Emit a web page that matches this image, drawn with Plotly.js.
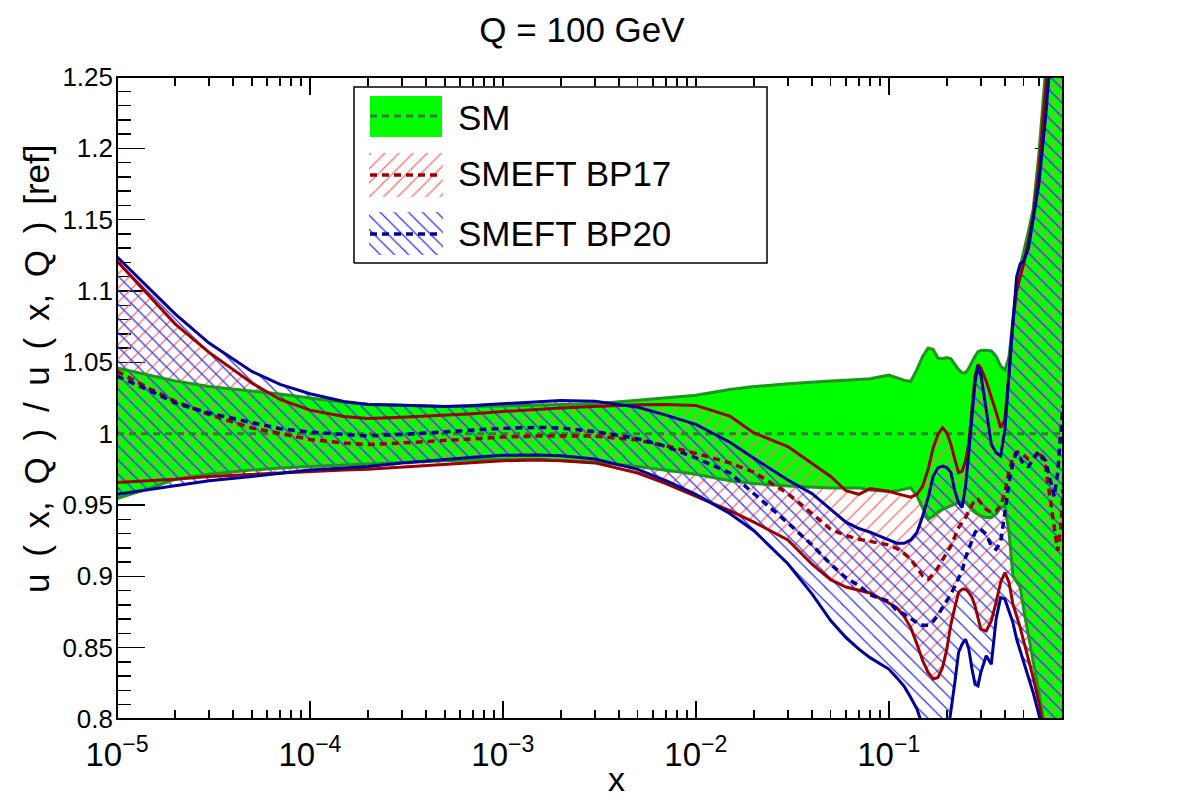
<!DOCTYPE html>
<html>
<head>
<meta charset="utf-8">
<script src="https://cdn.plot.ly/plotly-3.0.1.min.js"></script>
<style>
  html, body { margin: 0; padding: 0; background: #ffffff; }
  #chart { width: 1182px; height: 800px; }
</style>
</head>
<body>
<div id="chart"></div>
<script>
// Momentum fraction grid shared by every band and central curve
const xGrid = [1e-5, 1.5e-5, 2e-5, 3e-5, 5e-5, 7e-5, 1e-4, 1.5e-4, 2e-4, 3e-4, 5e-4, 7e-4,
  1e-3, 1.5e-3, 2e-3, 3e-3, 5e-3, 7e-3, 1e-2, 1.5e-2, 2e-2, 3e-2, 4e-2, 5e-2, 6e-2, 7e-2, 8e-2,
  0.10, 0.11, 0.12, 0.13, 0.14, 0.15, 0.16, 0.17, 0.18, 0.19, 0.20, 0.21, 0.22, 0.23, 0.24,
  0.25, 0.26, 0.27, 0.28, 0.29, 0.30, 0.32, 0.34, 0.36, 0.38, 0.40, 0.42, 0.44, 0.46, 0.48,
  0.50, 0.53, 0.56, 0.60, 0.65, 0.70, 0.72, 0.75, 0.78, 0.80];

// SM uncertainty band (ratio to the reference fit)
const smUpper = [1.046, 1.0405, 1.037, 1.033, 1.0298, 1.0278, 1.025, 1.022, 1.0207, 1.0198, 1.019, 1.019,
  1.0195, 1.020, 1.0205, 1.021, 1.0235, 1.025, 1.027, 1.031, 1.033, 1.035, 1.0363, 1.037, 1.0375, 1.038, 1.0385,
  1.041, 1.039, 1.0375, 1.0366, 1.045, 1.0543, 1.060, 1.059, 1.053, 1.0525, 1.0534, 1.0525, 1.0485, 1.045, 1.0427,
  1.0427, 1.046, 1.0508, 1.0543, 1.0574, 1.0583, 1.0585, 1.058, 1.0543, 1.0473, 1.0445, 1.054, 1.080, 1.105, 1.117,
  1.1265, 1.142, 1.157, 1.196, 1.255, 1.31, 1.33, 1.36, 1.39, 1.41];
const smLower = [0.9545, 0.962, 0.968, 0.9715, 0.9745, 0.976, 0.977, 0.978, 0.979, 0.980, 0.981, 0.9815,
  0.982, 0.982, 0.981, 0.980, 0.977, 0.9745, 0.9715, 0.967, 0.965, 0.9633, 0.9625, 0.962, 0.962, 0.962, 0.9605,
  0.9595, 0.960, 0.961, 0.962, 0.9563, 0.9482, 0.940, 0.9423, 0.9451, 0.947, 0.9482, 0.9493, 0.9505, 0.9517, 0.9521,
  0.9517, 0.9493, 0.9465, 0.9447, 0.9435, 0.9423, 0.9412, 0.9412, 0.9435, 0.9482, 0.9493, 0.9307, 0.9003, 0.8957, 0.8922,
  0.877, 0.8583, 0.842, 0.8186, 0.79, 0.76, 0.75, 0.74, 0.73, 0.72];
const smCentralX = [1e-5, 0.8];
const smCentral = [1.0, 1.0];

// SMEFT benchmark BP17
const bp17Upper = [1.121, 1.095, 1.077, 1.057, 1.0355, 1.024, 1.0165, 1.012, 1.0106, 1.0115, 1.0128, 1.014,
  1.0155, 1.017, 1.018, 1.019, 1.0203, 1.0205, 1.0198, 1.0123, 1.0005, 0.991, 0.979, 0.970, 0.960, 0.9575, 0.9615,
  0.9596, 0.958, 0.9565, 0.9555, 0.9575, 0.9633, 0.975, 0.9902, 0.9995, 1.0042, 1.0007, 0.9925, 0.982, 0.9727, 0.9738,
  0.9808, 0.9937, 1.0193, 1.0403, 1.0485, 1.0462, 1.0368, 1.0263, 1.0151, 1.0042, 1.010, 1.0427, 1.0777, 1.100, 1.110,
  1.119, 1.135, 1.152, 1.185, 1.235, 1.29, 1.31, 1.34, 1.37, 1.38];
const bp17Lower = [0.9657, 0.967, 0.968, 0.970, 0.9715, 0.9725, 0.9738, 0.9745, 0.975, 0.9765, 0.978, 0.9795,
  0.981, 0.9815, 0.981, 0.9795, 0.9724, 0.965, 0.956, 0.946, 0.938, 0.9255, 0.9086, 0.8977, 0.8925, 0.890, 0.8883,
  0.8813, 0.878, 0.872, 0.8641, 0.8525, 0.8408, 0.8326, 0.828, 0.8291, 0.8361, 0.849, 0.8665, 0.8782, 0.8887, 0.891,
  0.891, 0.8887, 0.8852, 0.8793, 0.8711, 0.863, 0.8618, 0.8688, 0.8817, 0.8957, 0.9027, 0.8957, 0.8805, 0.8723, 0.8641,
  0.8548, 0.842, 0.8291, 0.8116, 0.785, 0.76, 0.75, 0.74, 0.73, 0.72];
const bp17Central = [1.0438, 1.031, 1.0227, 1.0134, 1.004, 1.0002, 0.996, 0.9935, 0.9924, 0.9935, 0.9952, 0.9964,
  0.9976, 0.9983, 0.9985, 0.9983, 0.9955, 0.9915, 0.9862, 0.9795, 0.973, 0.958, 0.944, 0.933, 0.9285, 0.926, 0.9245,
  0.922, 0.9195, 0.916, 0.912, 0.9062, 0.9003, 0.898, 0.9015, 0.9062, 0.912, 0.9167, 0.9213, 0.9272, 0.9342, 0.9377,
  0.9412, 0.9458, 0.9505, 0.954, 0.954, 0.9517, 0.947, 0.9447, 0.9458, 0.9493, 0.9587, 0.9738, 0.9832, 0.987, 0.987,
  0.985, 0.982, 0.983, 0.988, 0.977, 0.945, 0.933, 0.918, 0.935, 0.961];

// SMEFT benchmark BP20
const bp20Upper = [1.124, 1.101, 1.084, 1.0635, 1.0436, 1.0345, 1.028, 1.0225, 1.0205, 1.020, 1.019, 1.0198,
  1.021, 1.0228, 1.0233, 1.0228, 1.0185, 1.013, 1.0065, 0.994, 0.9827, 0.9675, 0.958, 0.947, 0.938, 0.9335, 0.931,
  0.9255, 0.9232, 0.9232, 0.9255, 0.9307, 0.9423, 0.9552, 0.9703, 0.9762, 0.9773, 0.9762, 0.9727, 0.9598, 0.9517, 0.9482,
  0.9633, 0.9867, 1.0123, 1.0357, 1.0473, 1.0415, 1.017, 0.9925, 0.9867, 0.9843, 1.003, 1.038, 1.0777, 1.110, 1.119,
  1.121, 1.130, 1.150, 1.175, 1.222, 1.28, 1.30, 1.33, 1.36, 1.37];
const bp20Lower = [0.9575, 0.961, 0.9635, 0.967, 0.970, 0.972, 0.9745, 0.976, 0.977, 0.9795, 0.982, 0.9835,
  0.9848, 0.985, 0.9845, 0.9822, 0.975, 0.967, 0.9575, 0.944, 0.932, 0.9088, 0.8877, 0.869, 0.857, 0.849, 0.843,
  0.835, 0.829, 0.823, 0.815, 0.807, 0.795, 0.785, 0.775, 0.770, 0.775, 0.785, 0.805, 0.8256, 0.8466, 0.8525,
  0.856, 0.849, 0.835, 0.8244, 0.8232, 0.8326, 0.8443, 0.8384, 0.870, 0.8852, 0.884, 0.8747, 0.8676, 0.856, 0.8478,
  0.8396, 0.828, 0.8186, 0.803, 0.78, 0.76, 0.75, 0.74, 0.73, 0.72];
const bp20Central = [1.0403, 1.0298, 1.0215, 1.0145, 1.0077, 1.0035, 1.001, 0.9995, 0.9984, 0.9995, 1.0015, 1.0025,
  1.0037, 1.0044, 1.004, 1.0015, 0.9965, 0.991, 0.983, 0.9725, 0.958, 0.9375, 0.922, 0.9085, 0.899, 0.8935, 0.887,
  0.8825, 0.876, 0.8735, 0.8704, 0.8676, 0.8658, 0.8658, 0.8686, 0.8728, 0.8782, 0.8828, 0.8875, 0.8933, 0.8992, 0.9038,
  0.9132, 0.919, 0.9248, 0.9307, 0.9335, 0.933, 0.9295, 0.9213, 0.919, 0.9237, 0.9447, 0.9657, 0.9797, 0.987, 0.983,
  0.978, 0.977, 0.982, 0.987, 0.981, 0.963, 0.956, 0.972, 1.005, 1.02];

// Axis ticks and labels
const xTickVals = [1e-5, 1e-4, 1e-3, 1e-2, 1e-1];
const xTickText = ['10<sup>\u22125</sup>', '10<sup>\u22124</sup>', '10<sup>\u22123</sup>', '10<sup>\u22122</sup>', '10<sup>\u22121</sup>'];
const yTickVals = [0.8, 0.85, 0.9, 0.95, 1.0, 1.05, 1.1, 1.15, 1.2, 1.25];
const yTickText = ['0.8', '0.85', '0.9', '0.95', '1', '1.05', '1.1', '1.15', '1.2', '1.25'];
const legendLabels = ['SM', 'SMEFT BP17', 'SMEFT BP20'];
const GAP = '\u00a0\u2009';
const yTitle = ['u', '(', 'x,', 'Q', ')', '/', 'u', '(', 'x,', 'Q', ')', '[ref]'].join(GAP);

// Colours
const GREEN_FILL = '#00ff00', GREEN_EDGE = '#1f941f', GREEN_DASH = '#357a35';
const RED_LINE = '#990000', RED_HATCH = '#ff6e6e';
const BLUE_LINE = '#000099', BLUE_HATCH = '#3030ff';
const FONT = 'Liberation Sans, Arial, Helvetica, sans-serif';

// Minor tick positions: 2..9 inside each decade of the x range
const xMinor = [];
for (let e = -5; e <= -1; e++) {
  for (let d = 2; d <= 9; d++) {
    const v = d * Math.pow(10, e);
    if (v <= 0.8) xMinor.push(v);
  }
}

function edge(y, color, width, dash, x) {
  return { x: x || xGrid, y: y, mode: 'lines', hoverinfo: 'skip',
           line: { color: color, width: width, dash: dash || 'solid' } };
}
function bandBase(y) {
  return { x: xGrid, y: y, mode: 'lines', hoverinfo: 'skip', line: { width: 0 } };
}
function hatch(shape, color) {
  return { shape: shape, fgcolor: color, bgcolor: 'rgba(0,0,0,0)', size: 10, solidity: 0.13, fgopacity: 1 };
}

const traces = [
  // SM band
  bandBase(smLower),
  Object.assign(bandBase(smUpper), { fill: 'tonexty', fillcolor: GREEN_FILL }),
  // BP17 hatched band
  bandBase(bp17Lower),
  Object.assign(bandBase(bp17Upper), { fill: 'tonexty', fillcolor: 'rgba(0,0,0,0)', fillpattern: hatch('/', RED_HATCH) }),
  // BP20 hatched band
  bandBase(bp20Lower),
  Object.assign(bandBase(bp20Upper), { fill: 'tonexty', fillcolor: 'rgba(0,0,0,0)', fillpattern: hatch('\\', BLUE_HATCH) }),
  // band edges and central values
  edge(smUpper, GREEN_EDGE, 3),
  edge(smLower, GREEN_EDGE, 3),
  edge(smCentral, GREEN_DASH, 3, '7px,5px', smCentralX),
  edge(bp17Upper, RED_LINE, 3),
  edge(bp17Lower, RED_LINE, 3),
  edge(bp17Central, RED_LINE, 3.5, '7px,5px'),
  edge(bp20Upper, BLUE_LINE, 3),
  edge(bp20Lower, BLUE_LINE, 3),
  edge(bp20Central, BLUE_LINE, 3.5, '7px,5px')
];

// Legend box drawn on its own small axes (units ~ pixels)
function leg(tr) { return Object.assign({ xaxis: 'x2', yaxis: 'y2', hoverinfo: 'skip' }, tr); }
const legendTraces = [
  leg({ x: [0, 413, 413, 0, 0], y: [0, 0, 176, 176, 0], mode: 'lines', fill: 'toself',
        fillcolor: '#ffffff', line: { color: '#000000', width: 1.5 } }),
  leg({ x: [16, 88, 88, 16, 16], y: [126, 126, 167, 167, 126], mode: 'lines', fill: 'toself',
        fillcolor: GREEN_FILL, line: { width: 0 } }),
  leg({ x: [16, 88], y: [147, 147], mode: 'lines', line: { color: GREEN_DASH, width: 3, dash: '7px,5px' } }),
  leg({ x: [15, 89, 89, 15, 15], y: [66, 66, 110, 110, 66], mode: 'lines', fill: 'toself',
        fillcolor: 'rgba(0,0,0,0)', fillpattern: hatch('/', RED_HATCH), line: { width: 0 } }),
  leg({ x: [16, 88], y: [88, 88], mode: 'lines', line: { color: RED_LINE, width: 3.5, dash: '7px,5px' } }),
  leg({ x: [15, 89, 89, 15, 15], y: [8, 8, 51, 51, 8], mode: 'lines', fill: 'toself',
        fillcolor: 'rgba(0,0,0,0)', fillpattern: hatch('\\', BLUE_HATCH), line: { width: 0 } }),
  leg({ x: [16, 88], y: [29, 29], mode: 'lines', line: { color: BLUE_LINE, width: 3.5, dash: '7px,5px' } })
];

const legendY = [145, 89, 29];
const annotations = legendLabels.map((t, i) => ({
  text: t, xref: 'x2', yref: 'y2', x: 102, y: legendY[i], xanchor: 'left', yanchor: 'middle',
  showarrow: false, font: { size: 35, family: FONT, color: '#000' }
}));
annotations.push({
  text: yTitle, textangle: -90, xref: 'paper', yref: 'paper',
  x: (36 - 117) / 946, y: (719 - 369) / 642, xanchor: 'center', yanchor: 'middle',
  showarrow: false, font: { size: 35, family: FONT, color: '#000' }
});
annotations.push({
  text: 'x', xref: 'paper', yref: 'paper', x: (616 - 117) / 946, y: (719 - 799) / 642,
  xanchor: 'center', yanchor: 'bottom', showarrow: false, borderpad: 0,
  font: { size: 34, family: FONT, color: '#000' }
});

const layout = {
  width: 1182, height: 800,
  margin: { l: 117, r: 119, t: 77, b: 81, pad: 0 },
  paper_bgcolor: '#ffffff', plot_bgcolor: '#ffffff',
  showlegend: false, hovermode: false,
  font: { family: FONT, color: '#000' },
  title: { text: 'Q = 100 GeV', font: { size: 35, family: FONT, color: '#000' },
           xref: 'container', yref: 'container', x: 582 / 1182, y: 1 - 30 / 800,
           xanchor: 'center', yanchor: 'middle' },
  xaxis: {
    type: 'log', range: [Math.log10(1e-5), Math.log10(0.8)], anchor: 'y',
    tickmode: 'array', tickvals: xTickVals, ticktext: xTickText,
    ticks: 'inside', ticklen: 18, tickwidth: 1.5, tickcolor: '#000',
    minor: { tickmode: 'array', tickvals: xMinor, ticks: 'inside', ticklen: 9, tickwidth: 1.5, tickcolor: '#000' },
    mirror: 'ticks', showline: false, showgrid: false, zeroline: false, layer: 'below traces',
    tickfont: { size: 33, family: FONT, color: '#000' },
    ticklabelstandoff: 13, fixedrange: true
  },
  yaxis: {
    range: [0.8, 1.25], anchor: 'x',
    tickmode: 'array', tickvals: yTickVals, ticktext: yTickText,
    ticks: 'inside', ticklen: 28, tickwidth: 1.5, tickcolor: '#000',
    minor: { tickmode: 'linear', tick0: 0.8, dtick: 0.01, ticks: 'inside', ticklen: 14, tickwidth: 1.5, tickcolor: '#000' },
    mirror: 'ticks', showline: false, showgrid: false, zeroline: false, layer: 'below traces',
    tickfont: { size: 26, family: FONT, color: '#000' }, ticklabelstandoff: 3, fixedrange: true
  },
  xaxis2: { domain: [(353 - 117) / 946, (768 - 117) / 946], range: [-1, 414], anchor: 'y2',
            visible: false, fixedrange: true },
  yaxis2: { domain: [(719 - 264) / 642, (719 - 86) / 642], range: [-1, 177], anchor: 'x2',
            visible: false, fixedrange: true },
  shapes: [{ type: 'rect', xref: 'paper', yref: 'paper', x0: 0, x1: 1, y0: 0, y1: 1,
             line: { color: '#000', width: 2 }, fillcolor: 'rgba(0,0,0,0)', layer: 'above' }],
  annotations: annotations
};

Plotly.newPlot('chart', traces.concat(legendTraces), layout, { staticPlot: true, displayModeBar: false });
</script>
</body>
</html>
